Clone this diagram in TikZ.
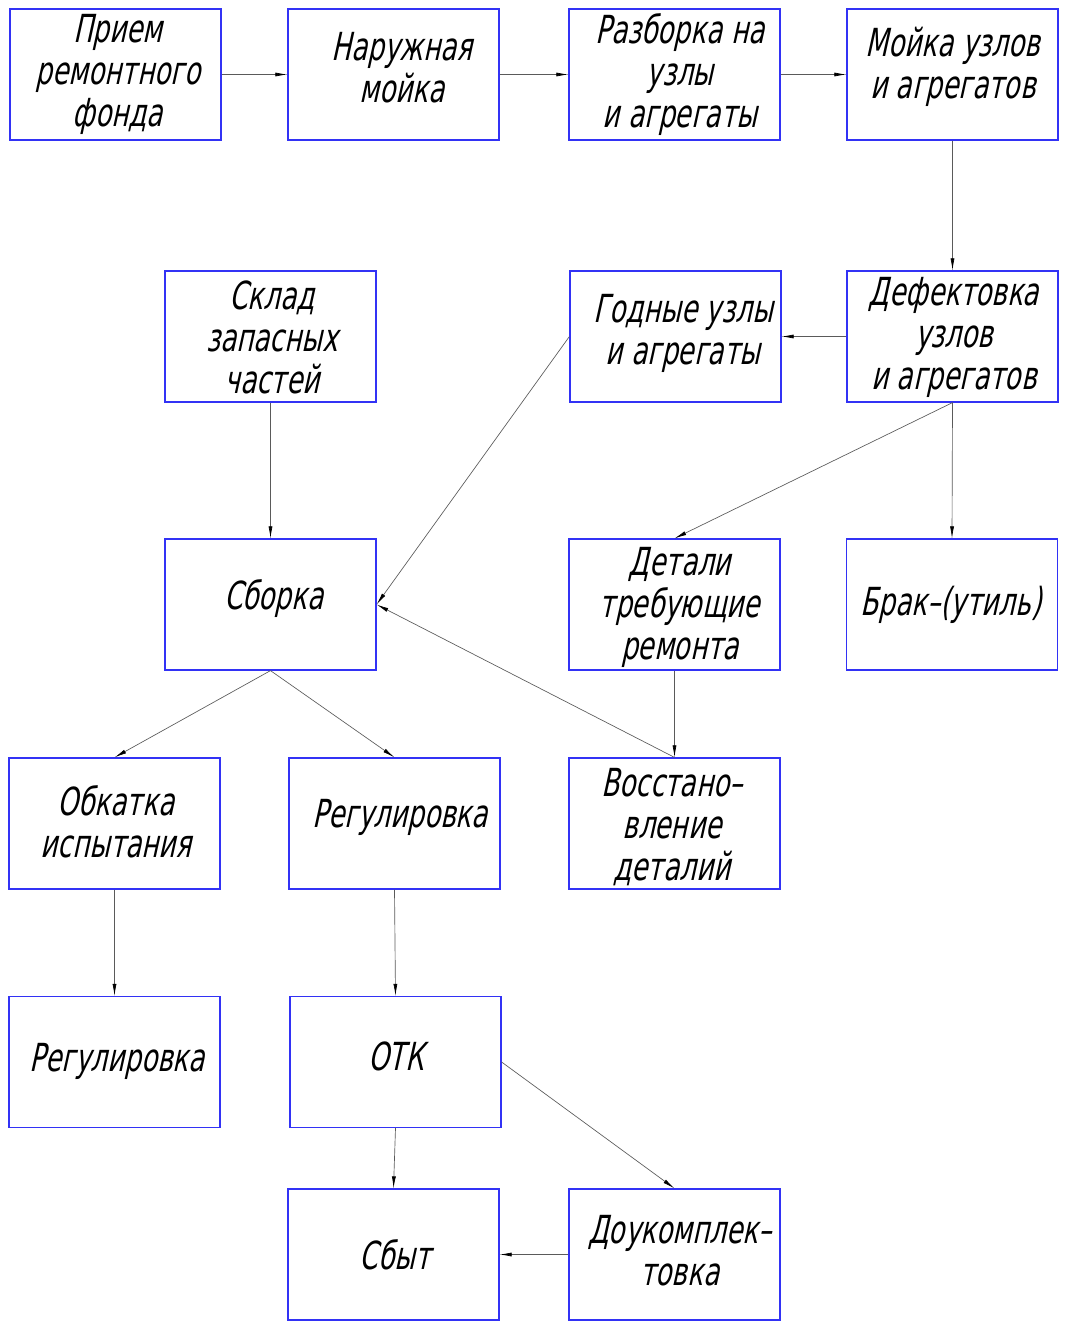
\documentclass[tikz,border=0pt]{standalone}
\usepackage{fontspec}
\usetikzlibrary{arrows.meta}
\newfontfamily\gost[FakeStretch=0.68,FakeSlant=0.22]{DejaVu Sans}
\definecolor{boxblue}{RGB}{50,50,245}
\definecolor{linegray}{RGB}{90,90,90}
\begin{document}
\begin{tikzpicture}[x=0.75pt,y=-0.75pt,
  box/.style={draw=boxblue,line width=0.9pt,minimum width=158.25pt,minimum height=98.25pt,inner sep=0pt},
  lbl/.style={font=\gost\fontsize{29pt}{31.5pt}\selectfont,align=center,inner sep=0pt},
  conn/.style={draw=linegray,line width=0.5pt,-{Latex[length=9pt,width=3pt,black]}}]
\useasboundingbox (0,0) rectangle (1066,1325);
% boxes
\node[box] (A) at (115.5,74.5) {};
\node[box] (B) at (393.5,74.5) {};
\node[box] (C) at (674.5,74.5) {};
\node[box] (D) at (952.5,74.5) {};
\node[box] (E) at (270.5,336.5) {};
\node[box] (F) at (675.5,336.5) {};
\node[box] (G) at (952.5,336.5) {};
\node[box] (H) at (270.5,604.5) {};
\node[box] (I) at (674.5,604.5) {};
\node[box] (J) at (952,604.5) {};
\node[box] (K) at (114.5,823.5) {};
\node[box] (L) at (394.5,823.5) {};
\node[box] (M) at (674.5,823.5) {};
\node[box] (N) at (114.5,1062) {};
\node[box] (O) at (395.5,1062) {};
\node[box] (P) at (393.5,1254.5) {};
\node[box] (Q) at (674.5,1254.5) {};
% labels
\node[lbl] (tA) at (118,74) {Прием\\ремонтного\\фонда};
\node[lbl] (tB) at (402,68) {Наружная\\мойка};
\node[lbl] (tC) at (680,74) {Разборка на\\узлы\\и агрегаты};
\node[lbl] (tD) at (953,67) {Мойка узлов\\и агрегатов};
\node[lbl] (tE) at (272,337) {Склад\\запасных\\частей};
\node[lbl] (tF) at (683,333) {Годные узлы\\и агрегаты};
\node[lbl] (tG) at (954,337) {Дефектовка\\узлов\\и агрегатов};
\node[lbl] (tH) at (274,598) {Сборка};
\node[lbl] (tI) at (680,607) {Детали\\требующие\\ремонта};
\node[lbl] (tJ) at (951,605) {Брак–(утиль)};
\node[lbl] (tK) at (116,822) {Обкатка\\испытания};
\node[lbl] (tL) at (400,817) {Регулировка};
\node[lbl] (tM) at (672,827) {Восстано–\\вление\\деталий};
\node[lbl] (tN) at (117,1061) {Регулировка};
\node[lbl] (tO) at (396,1056) {ОТК};
\node[lbl] (tP) at (395,1255) {Сбыт};
\node[lbl] (tQ) at (680,1251) {Доукомплек–\\товка};
% connectors
\draw[conn] (A.east) -- (B.west);
\draw[conn] (B.east) -- (C.west);
\draw[conn] (C.east) -- (D.west);
\draw[conn] (D.south) -- (G.north);
\draw[conn] (G.west) -- (F.east);
\draw[conn] (G.south) -- (I.north);
\draw[conn] (G.south) -- (J.north);
\draw[conn] (F.west) -- (H.east);
\draw[conn] (E.south) -- (H.north);
\draw[conn] (M.north) -- (H.east);
\draw[conn] (I.south) -- (M.north);
\draw[conn] (H.south) -- (K.north);
\draw[conn] (H.south) -- (L.north);
\draw[conn] (K.south) -- (N.north);
\draw[conn] (L.south) -- (O.north);
\draw[conn] (O.south) -- (P.north);
\draw[conn] (O.east) -- (Q.north);
\draw[conn] (Q.west) -- (P.east);
\end{tikzpicture}
\end{document}
